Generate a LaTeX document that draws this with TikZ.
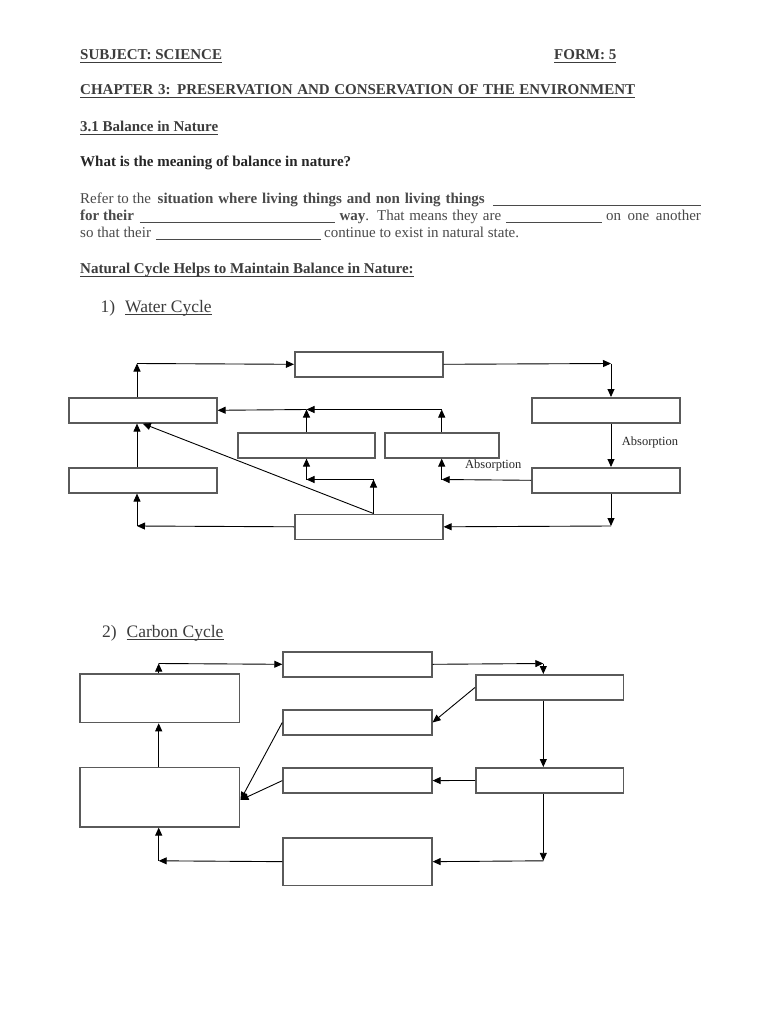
\documentclass[tikz,border=0pt]{standalone}
\usepackage{fontspec}
\setmainfont{Liberation Serif}
\usetikzlibrary{arrows.meta}
\definecolor{txtgray}{HTML}{4A4A4A}
\definecolor{hdgray}{HTML}{3C3C3C}
\definecolor{boxgray}{HTML}{5A5A5A}
\newcommand\ulnode[1]{\draw[ulstyle] ([yshift=-2.6pt]#1.base west) -- ([yshift=-2.6pt]#1.base east);}
\begin{document}
\begin{tikzpicture}[x=1pt,y=-1pt,
  box/.style={draw=boxgray, line width=1.6pt, fill=white, inner sep=0pt, anchor=north west},
  arr/.style={-{Triangle[length=8pt,width=7pt]}, line width=0.9pt, black},
  txt/.style={anchor=base west, inner sep=0pt, text=txtgray, font=\fontsize{15}{18}\selectfont},
  hd/.style={txt, text=hdgray, font=\fontsize{15}{18}\selectfont\bfseries},
  ques/.style={txt, text=black!85, font=\fontsize{15}{18}\selectfont\bfseries},
  big/.style={txt, text=hdgray, font=\fontsize{17.5}{21}\selectfont},
  lab/.style={txt, text=black!85, font=\fontsize{12.5}{15}\selectfont},
  ulstyle/.style={line width=0.9pt, draw=hdgray},
  blank/.style={line width=0.8pt, draw=txtgray}]
\useasboundingbox (0,0) rectangle (768,1024);
\fill[white] (0,0) rectangle (768,1024);

% ---------- header text ----------
\node[hd] (subj) at (80,60) {SUBJECT: SCIENCE}; \ulnode{subj}
\node[hd] (form) at (554,60) {FORM: 5}; \ulnode{form}
\node[hd] (chap) at (80,95) {\makebox[555pt][s]{CHAPTER 3: PRESERVATION AND CONSERVATION OF THE ENVIRONMENT}}; \ulnode{chap}
\node[hd] (sec) at (80,131.5) {3.1 Balance in Nature}; \ulnode{sec}
\node[ques] (q) at (80,166.7) {What is the meaning of balance in nature?};

% paragraph
\node[txt] (p1a) at (80,203.3) {Refer to the};
\node[txt] (p1b) at (157.5,203.3) {\makebox[327pt][s]{\bfseries situation where living things and non living things}};
\draw[blank] (492.8,205.2) -- (700.7,205.2);
\node[txt] (p2a) at (80,220.3) {\bfseries for their};
\draw[blank] (139.8,222.2) -- (335.2,222.2);
\node[txt] (p2b) at (339.4,220.3) {\makebox[161.6pt][s]{\textbf{way}. That means they are}};
\draw[blank] (506,222.2) -- (602,222.2);
\node[txt] (p2c) at (606,220.3) {\makebox[94.7pt][s]{on one another}};
\node[txt] (p3a) at (80,237.5) {so that their};
\draw[blank] (155.8,239.4) -- (320.5,239.4);
\node[txt] (p3b) at (323.9,237.5) {continue to exist in natural state.};

\node[hd] (nat) at (80,273.5) {Natural Cycle Helps to Maintain Balance in Nature:}; \ulnode{nat}

\node[big] (n1) at (100.5,312) {1)};
\node[big] (wc) at (125,312) {Water Cycle}; \ulnode{wc}

% ---------- water cycle ----------
\node[box, minimum width=148pt, minimum height=25pt] (T)  at (294,351) {};
\node[box, minimum width=148pt, minimum height=25pt] (L1) at (68,397) {};
\node[box, minimum width=148pt, minimum height=25pt] (R1) at (531,397) {};
\node[box, minimum width=137pt, minimum height=25pt] (M1) at (237,432) {};
\node[box, minimum width=114pt, minimum height=25pt] (M2) at (384,432) {};
\node[box, minimum width=148pt, minimum height=25pt] (L2) at (68,467) {};
\node[box, minimum width=148pt, minimum height=25pt] (R2) at (531,467) {};
\node[box, minimum width=148pt, minimum height=25pt] (B)  at (294,513.5) {};

\coordinate (w1) at (137,363.5);
\coordinate (w2) at (611,363.5);
\coordinate (w3) at (611,526);
\coordinate (w4) at (137,526);
\coordinate (w5) at (373.5,479.5);
\coordinate (w6) at (306.5,479.5);
\coordinate (w7) at (441.7,479.5);
\coordinate (w8) at (441.7,409.5);
\coordinate (w9) at (306.5,409.5);

\draw[arr] (L1.north -| w1) -- (w1);
\draw[arr] (w1) -- (T.west);
\draw[arr] (T.east) -- (w2);
\draw[arr] (w2) -- (R1.north -| w2);
\draw[arr] (R1.south -| w2) -- (R2.north -| w2);
\draw[arr] (R2.south -| w3) -- (w3);
\draw[arr] (w3) -- (B.east);
\draw[arr] (B.west) -- (w4);
\draw[arr] (w4) -- (L2.south -| w4);
\draw[arr] (L2.north -| w4) -- (L1.south -| w4);
\draw[arr] (B.north -| w5) -- (L1.south);
\draw[arr] (B.north -| w5) -- (w5);
\draw[arr] (w5) -- (w6);
\draw[arr] (w6) -- (M1.south -| w6);
\draw[arr] (R2.west) -- (w7);
\draw[arr] (w7) -- (M2.south -| w7);
\draw[arr] (M2.north -| w8) -- (w8);
\draw[arr] (w8) -- (w9);
\draw[arr] (M1.north -| w9) -- (w9);
\draw[arr] (w9) -- (L1.east);

\node[lab] (ab1) at (621.7,445) {Absorption};
\node[lab] (ab2) at (465,468) {Absorption};

% ---------- carbon cycle ----------
\node[big] (n2) at (102,637) {2)};
\node[big] (cc) at (126.5,637) {Carbon Cycle}; \ulnode{cc}

\node[box, minimum width=148.7pt, minimum height=25pt]   (CT)  at (282.3,651) {};
\node[box, minimum width=159.4pt, minimum height=48.4pt] (CL1) at (79.3,673.3) {};
\node[box, minimum width=147.7pt, minimum height=25.3pt] (CR1) at (475,674) {};
\node[box, minimum width=148.7pt, minimum height=25.3pt] (CM1) at (282.3,709) {};
\node[box, minimum width=148.7pt, minimum height=25pt]   (CM2) at (282.3,767.3) {};
\node[box, minimum width=147.7pt, minimum height=25.3pt] (CR2) at (475,767) {};
\node[box, minimum width=159.4pt, minimum height=59.3pt] (CL2) at (79.3,766.7) {};
\node[box, minimum width=148.7pt, minimum height=47.7pt] (CB)  at (282.3,837) {};

\coordinate (c1) at (158.7,663.5);
\coordinate (c2) at (543.3,663.5);
\coordinate (c3) at (543.3,860.8);
\coordinate (c4) at (158.7,860.8);
\coordinate (c6) at (240.5,800);

\draw[arr] (CL1.north -| c1) -- (c1);
\draw[arr] (c1) -- (CT.west);
\draw[arr] (CT.east) -- (c2);
\draw[arr] (c2) -- (CR1.north -| c2);
\draw[arr] (CR1.south -| c2) -- (CR2.north -| c2);
\draw[arr] (CR2.south -| c3) -- (c3);
\draw[arr] (c3) -- (CB.east);
\draw[arr] (CB.west) -- (c4);
\draw[arr] (c4) -- (CL2.south -| c4);
\draw[arr] (CL2.north -| c4) -- (CL1.south -| c4);
\draw[arr] (CR1.west) -- (CM1.east);
\draw[arr] (CR2.west) -- (CM2.east);
\draw[arr] (CM1.west) -- (c6);
\draw[arr] (CM2.west) -- (c6);
\end{tikzpicture}
\end{document}
